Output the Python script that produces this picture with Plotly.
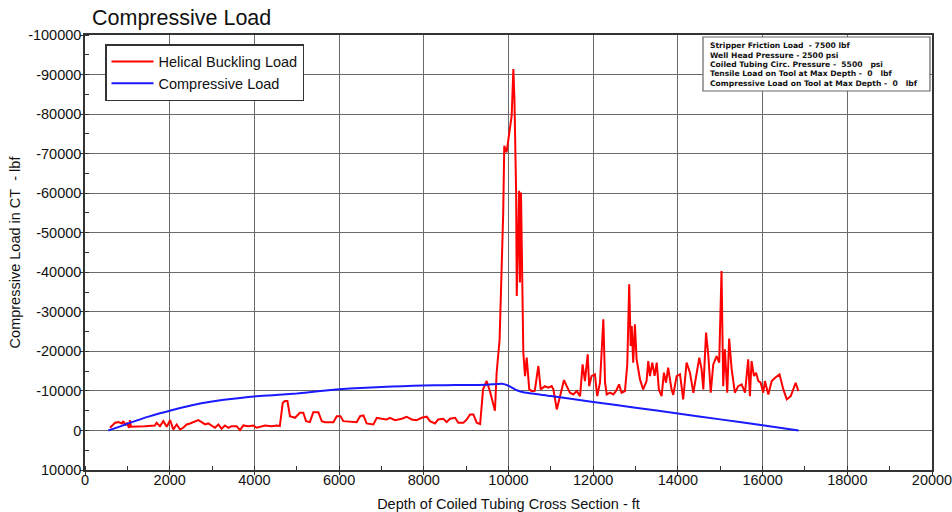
import plotly.graph_objects as go

# ---------------- data ----------------
red_depth = [590, 710, 790, 870, 905, 945, 985, 1040, 1060, 1085, 1420, 1650, 1690, 1770, 1850, 1930,
             2010, 2085, 2165, 2245, 2320, 2400, 2480, 2560, 2675, 2755, 2835, 2910, 2990, 3070, 3150,
             3225, 3305, 3385, 3465, 3580, 3660, 3740, 3855, 3975, 4050, 4170, 4250, 4410, 4525, 4600,
             4670, 4720, 4780, 4840, 4960, 5075, 5155, 5220, 5310, 5390, 5510, 5590, 5665, 5865, 5945,
             6035, 6100, 6415, 6495, 6575, 6650, 6810, 6890, 7005, 7125, 7200, 7320, 7480, 7595, 7715,
             7830, 7950, 8070, 8145, 8265, 8340, 8460, 8540, 8620, 8740, 8815, 8935, 9015, 9090, 9170,
             9250, 9330, 9400, 9485, 9560, 9680, 9720, 9790, 9875, 9900, 9955, 10020, 10075, 10115,
             10140, 10180, 10195, 10250, 10270, 10295, 10350, 10390, 10430, 10490, 10550, 10620, 10705,
             10760, 10860, 10940, 11020, 11060, 11100, 11140, 11180, 11255, 11310, 11375, 11450, 11530,
             11610, 11690, 11750, 11805, 11870, 11905, 11960, 12040, 12095, 12160, 12240, 12280, 12320,
             12400, 12475, 12540, 12610, 12670, 12750, 12805, 12850, 12885, 12910, 12945, 12985, 13025,
             13105, 13180, 13260, 13300, 13340, 13395, 13450, 13500, 13550, 13615, 13670, 13720, 13770,
             13850, 13890, 13970, 14050, 14125, 14205, 14285, 14365, 14505, 14560, 14600, 14665, 14720,
             14775, 14835, 14915, 14975, 15030, 15070, 15110, 15165, 15210, 15270, 15345, 15425, 15505,
             15585, 15660, 15700, 15740, 15795, 15845, 15900, 15955, 16015, 16055, 16135, 16215, 16295,
             16400, 16490, 16570, 16665, 16725, 16780, 16845]
red_load = [-680, -1950, -2100, -1770, -2350, -1270, -1950, -680, -2600, -930, -1090, -1270, -1950, -1090,
            -2350, -930, -2600, -250, -1520, -250, -680, -1520, -1770, -2100, -2600, -2100, -1520, -1770,
            -1270, -680, -1520, -430, -1270, -680, -1090, -1090, -80, -1270, -1090, -1270, -680, -930,
            -1270, -1090, -1270, -1100, -7000, -7420, -7420, -3620, -3210, -4480, -4480, -2350, -2100,
            -4630, -4630, -2350, -2100, -2100, -3620, -3620, -2350, -2100, -3620, -3800, -1770, -1520,
            -3210, -2960, -2790, -3210, -2600, -2960, -3470, -2790, -2600, -3210, -3470, -2350, -1770,
            -2790, -2960, -2100, -2960, -3210, -1950, -1950, -2790, -4050, -4050, -1950, -1600, -10400,
            -12500, -9950, -5000, -14600, -23000, -55000, -72000, -70300, -75400, -79600, -91400,
            -83800, -60200, -34000, -60600, -37400, -60200, -19700, -13750, -18400, -10380, -9950,
            -10000, -16300, -10380, -11200, -10800, -11200, -10380, -7420, -5320, -7000, -10800,
            -12740, -11200, -9540, -9110, -9950, -8680, -16700, -12480, -19240, -11200, -13750,
            -14180, -8680, -12070, -28100, -12070, -9110, -9540, -9110, -10000, -11650, -9540, -9950,
            -16700, -36970, -21340, -26400, -17140, -26840, -17980, -12910, -10380, -12480, -17550,
            -13750, -17140, -13800, -17140, -10380, -8680, -14600, -12070, -15860, -10380, -9000,
            -13750, -14180, -7850, -17140, -14600, -9540, -18400, -15440, -10380, -24740, -18800,
            -9540, -16700, -18800, -17140, -40340, -11200, -20500, -9540, -23220, -15440, -9540,
            -11200, -11650, -9540, -17980, -8680, -17550, -13750, -14600, -12480, -12070, -9540,
            -12480, -9110, -12480, -13320, -14180, -10380, -7850, -8680, -10380, -12070, -9950]

blue_depth = [550, 800, 1000, 1250, 1500, 1750, 2000, 2500, 3000, 3500, 4000, 4500, 5000, 5500, 6000,
              6500, 7000, 7500, 8000, 8500, 9000, 9500, 9850, 10000, 10150, 10300, 10500, 11000, 12000,
              13000, 14000, 15000, 16000, 16850]
blue_load = [0, -900, -1700, -2600, -3500, -4300, -5000, -6300, -7300, -8000, -8600, -8950, -9350, -9900,
             -10400, -10750, -11000, -11200, -11350, -11450, -11500, -11550, -11800, -11300, -10400,
             -9800, -9400, -8700, -7200, -5750, -4300, -2800, -1300, 0]

x_ticks = list(range(0, 20001, 2000))
y_ticks = list(range(-100000, 10001, 10000))
y_tick_text = [str(v) for v in y_ticks]  # plain hyphen-minus

info_lines = [
    "Stripper Friction Load\u00a0 - 7500 lbf",
    "Well Head Pressure - 2500 psi",
    "Coiled Tubing Circ. Pressure -\u00a0 5500\u00a0\u00a0 psi",
    "Tensile Load on Tool at Max Depth -\u00a0 0\u00a0\u00a0 lbf",
    "Compressive Load on Tool at Max Depth -\u00a0 0\u00a0\u00a0 lbf",
]

FONT = "Liberation Sans, Arial, sans-serif"
FS = 14.5

# plot area in pixels (for placing paper-referenced decorations)
L, R, T, B = 85, 932, 35, 470
W, H = R - L, B - T


def px_x(px):
    return (px - L) / W


def px_y(py):
    return (B - py) / H


fig = go.Figure()
fig.add_trace(go.Scatter(x=red_depth, y=red_load, mode="lines", name="Helical Buckling Load",
                         line=dict(color="#ff0000", width=2)))
fig.add_trace(go.Scatter(x=blue_depth, y=blue_load, mode="lines", name="Compressive Load",
                         line=dict(color="#1a1aff", width=2, shape="spline", smoothing=0.6)))

grid = "#6a6a6a"
fig.update_layout(
    width=952, height=512,
    margin=dict(l=L, r=952 - R, t=T, b=512 - B),
    paper_bgcolor="white", plot_bgcolor="white",
    font=dict(family=FONT, size=FS, color="#111"),
    title=dict(text="Compressive Load", x=92 / 952, xref="container", xanchor="left",
               y=1 - 17 / 512, yref="container", yanchor="middle",
               font=dict(family=FONT, size=21.5, color="#111")),
    legend=dict(x=px_x(105), y=px_y(44), xanchor="left", yanchor="top", bgcolor="white",
                bordercolor="#333", borderwidth=1.5, font=dict(size=FS, color="#111"),
                itemwidth=42),
    xaxis=dict(range=[0, 20000], tickvals=x_ticks, tickformat="d", automargin=False,
               ticklabeloverflow="allow", ticklabelstandoff=-7,
               showgrid=True, gridcolor=grid, gridwidth=1,
               showline=True, linecolor="#333", linewidth=1.5, mirror=True,
               ticks="outside", ticklen=3, tickcolor="#333", tickfont=dict(size=FS),
               minor=dict(dtick=1000, ticks="inside", ticklen=4, tickcolor="#333", showgrid=False),
               zeroline=False,
               title=dict(text="Depth of Coiled Tubing Cross Section - ft", standoff=12,
                          font=dict(size=FS, color="#111"))),
    yaxis=dict(range=[10000, -100000], tickvals=y_ticks, ticktext=y_tick_text, automargin=False,
               ticklabeloverflow="allow", ticklabelstandoff=-4,
               showgrid=True, gridcolor=grid, gridwidth=1,
               showline=True, linecolor="#333", linewidth=1.5, mirror=True,
               ticks="outside", ticklen=3, tickcolor="#333", tickfont=dict(size=FS),
               minor=dict(dtick=5000, ticks="inside", ticklen=4, tickcolor="#333", showgrid=False),
               zeroline=False,
               title=dict(text="Compressive Load in CT\u00a0 - lbf", standoff=4,
                          font=dict(size=FS, color="#111"))),
)

# info box (top right)
fig.add_shape(type="rect", xref="paper", yref="paper",
              x0=px_x(703), x1=px_x(930), y0=px_y(91), y1=px_y(37),
              line=dict(color="#666", width=1.2), fillcolor="white", layer="above")
line_centers = [45.5, 55.0, 64.5, 74.0, 83.5]
for txt, cy in zip(info_lines, line_centers):
    fig.add_annotation(text=txt, xref="paper", yref="paper", x=px_x(709), y=px_y(cy),
                       xanchor="left", yanchor="middle", showarrow=False, borderpad=0,
                       font=dict(family="DejaVu Sans", size=7.6, color="#111", weight="bold"))

fig.write_html("out.html")
